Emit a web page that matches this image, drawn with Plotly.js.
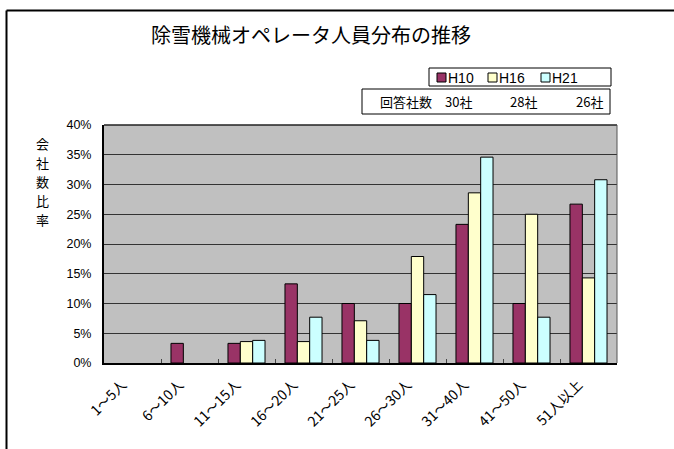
<!DOCTYPE html>
<html>
<head>
<meta charset="utf-8">
<script src="https://cdn.plot.ly/plotly-3.0.1.min.js"></script>
<style>html,body{margin:0;padding:0;background:#fff;}#chart{width:674px;height:449px;}</style>
</head>
<body>
<div id="chart"></div>
<script>
var categories = ["1～5人","6～10人","11～15人","16～20人","21～25人","26～30人","31～40人","41～50人","51人以上"];
var seriesNames = ["H10","H16","H21"];
var h10 = [0, 0.033, 0.033, 0.133, 0.100, 0.100, 0.233, 0.100, 0.267];
var h16 = [0, 0, 0.036, 0.036, 0.071, 0.179, 0.286, 0.250, 0.143];
var h21 = [0, 0, 0.038, 0.077, 0.038, 0.115, 0.346, 0.077, 0.308];
var respondentsLabel = "回答社数";
var respondents = ["30社","28社","26社"];
var yTitleChars = ["会","社","数","比","率"];
var yTicks = [0,0.05,0.10,0.15,0.20,0.25,0.30,0.35,0.40];
var yTickText = ["0%","5%","10%","15%","20%","25%","30%","35%","40%"];
var colors = ["#993366","#FFFFCC","#CCFFFF"];

var W = 674, H = 449;
var L = 104, R = 617, T = 125, B = 363;
function px(x){ return (x - L) / (R - L); }
function py(y){ return (B - y) / (B - T); }

var data = [h10, h16, h21].map(function(vals, i){
  return {
    type: "bar", x: categories, y: vals, name: seriesNames[i],
    marker: {color: colors[i], line: {color: "#000", width: vals.map(function(v){ return v > 0 ? 1 : 0; })}},
    showlegend: false, hoverinfo: "skip"
  };
});

var font = "'Noto Sans CJK JP', 'Liberation Sans', sans-serif";
function ann(text, x, y, size, fam, xa){
  return {text:text, xref:"paper", yref:"paper", x:px(x), y:py(y), xanchor:xa||"center", yanchor:"middle",
          showarrow:false, borderpad:0, font:{family:fam||font, size:size, color:"#000"}};
}
var shapes = [
  {type:"line", xref:"paper", yref:"paper", x0:px(6.5), x1:px(680), y0:py(10.5), y1:py(10.5), line:{color:"#000", width:2}},
  {type:"line", xref:"paper", yref:"paper", x0:px(6.5), x1:px(6.5), y0:py(10.5), y1:py(460), line:{color:"#000", width:2}},
  {type:"line", xref:"paper", yref:"paper", x0:0, x1:1, y0:1, y1:1, line:{color:"#222", width:1.5}, layer:"above"},
  {type:"line", xref:"paper", yref:"paper", x0:1, x1:1, y0:0, y1:1, line:{color:"#555", width:1}, layer:"above"},
  {type:"rect", xref:"paper", yref:"paper", x0:px(429), x1:px(611), y0:py(68), y1:py(86), line:{color:"#000", width:1}, fillcolor:"#fff"},
  {type:"rect", xref:"paper", yref:"paper", x0:px(362), x1:px(610), y0:py(89), y1:py(114), line:{color:"#000", width:1}, fillcolor:"#fff"}
];
var annotations = [];
yTitleChars.forEach(function(c, i){ annotations.push(ann(c, 42, 143 + i*19, 13)); });
annotations.push(ann(respondentsLabel, 406, 101.5, 13));
var respX = [458, 523, 589];
respondents.forEach(function(r, i){ annotations.push(ann(r, respX[i], 101.5, 13)); });
var legendX = [437, 488, 541];
seriesNames.forEach(function(n, i){
  shapes.push({type:"rect", xref:"paper", yref:"paper", x0:px(legendX[i]), x1:px(legendX[i]+9), y0:py(73), y1:py(82), fillcolor:colors[i], line:{color:"#000", width:1}});
  annotations.push(ann(n, legendX[i]+10, 77.5, 14, "'Liberation Sans', sans-serif", "left"));
});

var layout = {
  width: W, height: H,
  margin: {l: L, r: W - R, t: T, b: H - B, pad: 0},
  paper_bgcolor: "#fff", plot_bgcolor: "#C0C0C0",
  title: {text: "除雪機械オペレータ人員分布の推移", xref: "container", yref: "container", x: 311/W, xanchor: "center", y: 1 - 36/H, yanchor: "middle", font: {family: font, size: 20, color: "#000"}},
  bargap: 0.35, bargroupgap: 0,
  barmode: "group",
  showlegend: false,
  xaxis: {
    type: "category", tickangle: -45, tickfont: {family: font, size: 14, color: "#000"},
    ticklabelshift: -10, ticklabelstandoff: 6,
    showline: true, linecolor: "#000", linewidth: 2,
    ticks: "inside", tickson: "boundaries", ticklen: 4, tickcolor: "#444", tickwidth: 1,
    showgrid: false, fixedrange: true
  },
  yaxis: {
    range: [0, 0.40], tickvals: yTicks, ticktext: yTickText,
    tickfont: {family: "'Liberation Sans', sans-serif", size: 12.5, color: "#000"},
    showline: true, linecolor: "#000", linewidth: 2,
    showgrid: true, gridcolor: "#333", gridwidth: 1,
    ticks: "", ticklabelstandoff: 8, zeroline: false, fixedrange: true
  },
  shapes: shapes,
  annotations: annotations
};
Plotly.newPlot("chart", data, layout, {displayModeBar: false, staticPlot: true});
</script>
</body>
</html>
